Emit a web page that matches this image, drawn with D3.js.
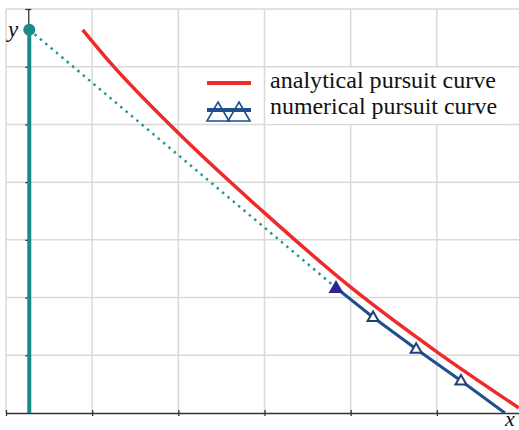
<!DOCTYPE html>
<html>
	<head>
		<meta charset="UTF-8">
		<title></title>
		<style>
			body {margin: 0; background: white;}
			.grid line {stroke: #d9d9d9; stroke-width: 1.5;}
			.axis path, .axis line {stroke: #333; stroke-width: 1.3;}
			.axis text {display: none;}
			.lbl {font-family: "Liberation Serif", serif; fill: #111;}
		</style>
	</head>
	<body>
		<script src="https://cdn.jsdelivr.net/npm/d3@7"></script>
		<script>
			// grid ticks
			var xTicks = [0, 1, 2, 3, 4, 5];
			var yTicks = [1, 2, 3, 4, 5, 6, 7];
			// target (fixed on the y axis)
			var targetX = 0.27;
			var targetY = 6.64;
			// analytical pursuit curve
			var anaX = [0.89, 1.21, 2.00, 2.99, 4.00, 5.00, 5.95];
			var anaY = [6.64, 6.07, 4.85, 3.48, 2.18, 1.06, 0.09];
			// numerical pursuit curve (first point = current pursuer)
			var numX = [3.83, 4.26, 4.76, 5.28, 5.79];
			var numY = [2.17, 1.66, 1.11, 0.56, 0.0];
			var markerIdx = [1, 2, 3];
			// legend
			var legendNames = ["analytical pursuit curve", "numerical pursuit curve"];

			var width = 519;
			var height = 430;
			var svg = d3.select("body")
				.append("svg")
				.attr("width", width)
				.attr("height", height);

			var xScale = d3.scaleLinear().domain([0, 6]).range([6, 523]);
			var yScale = d3.scaleLinear().domain([0, 7]).range([413, 9]);

			// grid
			var grid = svg.append("g").attr("class", "grid");
			grid.selectAll(".v").data(xTicks).enter().append("line")
				.attr("x1", function(d) { return xScale(d); })
				.attr("x2", function(d) { return xScale(d); })
				.attr("y1", yScale(7)).attr("y2", yScale(0));
			grid.selectAll(".h").data(yTicks).enter().append("line")
				.attr("x1", xScale(0)).attr("x2", width)
				.attr("y1", function(d) { return yScale(d); })
				.attr("y2", function(d) { return yScale(d); });

			// x axis, ticks crossing the line
			var xAx = svg.append("g")
				.attr("class", "axis")
				.attr("transform", "translate(0," + yScale(0) + ")")
				.call(d3.axisBottom(xScale).tickValues(xTicks).tickSize(3).tickSizeOuter(0));
			xAx.selectAll(".tick line").attr("y1", -3);

			// y axis through the target
			var yAx = svg.append("g")
				.attr("class", "axis")
				.attr("transform", "translate(" + (xScale(targetX) - 1) + ",0)")
				.call(d3.axisLeft(yScale).tickValues(yTicks).tickSize(3).tickSizeOuter(0));
			yAx.selectAll(".tick").filter(function(d) { return d == 7; }).select("line")
				.attr("x1", -3).attr("x2", 3);

			// target path (vertical)
			svg.append("line")
				.attr("x1", xScale(targetX)).attr("x2", xScale(targetX))
				.attr("y1", yScale(0)).attr("y2", yScale(targetY))
				.attr("stroke", "#1b8a8a").attr("stroke-width", 4);

			// line of sight
			svg.append("line")
				.attr("x1", xScale(targetX)).attr("y1", yScale(targetY))
				.attr("x2", xScale(numX[0])).attr("y2", yScale(numY[0]))
				.attr("stroke", "#2a9595").attr("stroke-width", 2.5)
				.attr("stroke-dasharray", "2.5,4.5");

			svg.append("circle")
				.attr("cx", xScale(targetX)).attr("cy", yScale(targetY))
				.attr("r", 6).attr("fill", "#1b8a8a");

			// analytical curve
			var line = d3.line().curve(d3.curveMonotoneX);
			svg.append("path")
				.attr("d", line(anaX.map(function(d, i) { return [xScale(d), yScale(anaY[i])]; })))
				.attr("fill", "none").attr("stroke", "#ee2b2b").attr("stroke-width", 3.5);

			// numerical curve
			svg.append("path")
				.attr("d", d3.line()(numX.map(function(d, i) { return [xScale(d), yScale(numY[i])]; })))
				.attr("fill", "none").attr("stroke", "#1f4f8c").attr("stroke-width", 3);

			function tri(cx, cy, s) {
				var h = s * 0.87;
				return "M" + cx + "," + (cy - h * 0.6) + "L" + (cx + s / 2) + "," + (cy + h * 0.4) +
					"L" + (cx - s / 2) + "," + (cy + h * 0.4) + "Z";
			}
			svg.selectAll(".mk").data(markerIdx).enter().append("path")
				.attr("d", function(i) { return tri(xScale(numX[i]), yScale(numY[i]), 11); })
				.attr("fill", "white").attr("stroke", "#1f3f78").attr("stroke-width", 2);
			svg.append("path")
				.attr("d", tri(xScale(numX[0]), yScale(numY[0]), 15))
				.attr("fill", "#27278f");

			// legend
			svg.append("rect")
				.attr("x", 266).attr("y", 68).attr("width", 242).attr("height", 56)
				.attr("fill", "white");
			svg.append("line").attr("x1", 207).attr("x2", 251).attr("y1", 83).attr("y2", 83)
				.attr("stroke", "#ee2b2b").attr("stroke-width", 4);
			svg.append("line").attr("x1", 207).attr("x2", 251).attr("y1", 110).attr("y2", 110)
				.attr("stroke", "#1f4f8c").attr("stroke-width", 4);
			[218, 239].forEach(function(cx) {
				svg.append("path").attr("d", "M" + cx + ",102L" + (cx + 11) + ",121L" + (cx - 11) + ",121Z")
					.attr("fill", "none").attr("stroke", "#1f4f8c").attr("stroke-width", 1.6);
			});
			svg.selectAll(".leg").data(legendNames).enter().append("text")
				.attr("class", "lbl")
				.attr("x", 270)
				.attr("y", function(d, i) { return 88 + i * 26; })
				.attr("textLength", function(d, i) { return i == 0 ? 226 : 227; })
				.attr("lengthAdjust", "spacingAndGlyphs")
				.style("font-size", "23px")
				.text(function(d) { return d; });

			// axis letters
			svg.append("text").attr("class", "lbl").attr("x", 8).attr("y", 37)
				.style("font-size", "23px").style("font-style", "italic").text("y");
			svg.append("text").attr("class", "lbl").attr("x", 505).attr("y", 426)
				.style("font-size", "22px").style("font-style", "italic").text("x");
		</script>
	</body>
</html>
